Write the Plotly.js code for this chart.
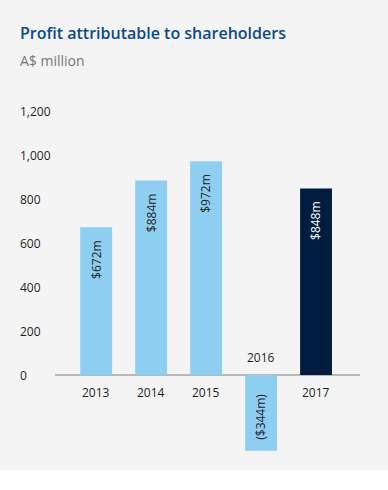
<!DOCTYPE html>
<html>
<head>
<meta charset="utf-8">
<script src="https://cdn.plot.ly/plotly-3.0.1.min.js"></script>
<style>
html,body{margin:0;padding:0;background:#ffffff;}
#chart{width:388px;height:470px;}
</style>
</head>
<body>
<div id="chart"></div>
<script>
var categories = ["2013", "2014", "2015", "2016", "2017"];
var profit = [672, 884, 972, -344, 848];
var valueLabels = ["$672m", "$884m", "$972m", "($344m)", "$848m"];
var barColors = ["#8ecef1", "#8ecef1", "#8ecef1", "#8ecef1", "#001d40"];
var labelColors = ["#1e1e1e", "#1e1e1e", "#1e1e1e", "#1e1e1e", "#ffffff"];
var yTicks = [0, 200, 400, 600, 800, 1000, 1200];
var yTickLabels = ["0", "200", "400", "600", "800", "1,000", "1,200"];

var FONT = "Open Sans, sans-serif";
var annotations = [];

// subtitle
annotations.push({
  text: "A$ million", xref: "paper", yref: "paper",
  x: -0.1148, y: (463 - 60) / 352, xanchor: "left", yanchor: "middle", xshift: -2,
  showarrow: false, font: {family: FONT, size: 14, color: "#777777"}
});

// y tick labels (left aligned)
for (var i = 0; i < yTicks.length; i++) {
  annotations.push({
    text: yTickLabels[i], xref: "paper", yref: "y",
    x: -0.1148, y: yTicks[i], xanchor: "left", yanchor: "middle", xshift: -2,
    showarrow: false, font: {family: FONT, size: 12, color: "#1e1e1e"}
  });
}

// category labels and value labels (x given as category index)
for (var j = 0; j < categories.length; j++) {
  var neg = profit[j] < 0;
  annotations.push({
    text: categories[j], xref: "x", yref: "y",
    x: j, y: 0,
    xanchor: "center", yanchor: neg ? "bottom" : "top",
    yshift: neg ? 7 : -7,
    showarrow: false, font: {family: FONT, size: 12, color: "#1e1e1e"}
  });
  annotations.push({
    text: valueLabels[j], xref: "x", yref: "y",
    x: j, y: profit[j], textangle: -90,
    xanchor: "center", yanchor: neg ? "bottom" : "top",
    yshift: neg ? 9 : -11,
    showarrow: false, font: {family: FONT, size: 12, color: labelColors[j]}
  });
}

var trace = {
  type: "bar",
  x: categories,
  y: profit,
  width: 0.58,
  marker: {color: barColors, line: {width: 0}},
  hoverinfo: "none"
};

var layout = {
  width: 388, height: 470,
  margin: {l: 55, r: 28, t: 111, b: 7, pad: 0},
  paper_bgcolor: "#f4f4f4",
  plot_bgcolor: "#f4f4f4",
  showlegend: false,
  title: {
    text: "Profit attributable to shareholders",
    xref: "container", yref: "container",
    x: 20 / 388, y: 1 - 33 / 470, xanchor: "left", yanchor: "middle",
    font: {family: FONT, size: 16, color: "#0b4a8a", weight: 600}
  },
  xaxis: {
    type: "category", range: [-0.75, 4.8],
    showticklabels: false, showgrid: false, zeroline: false, showline: false, ticks: ""
  },
  yaxis: {
    range: [-400, 1200], showticklabels: false, showgrid: false,
    zeroline: true, zerolinecolor: "#b8b8b8", zerolinewidth: 2,
    showline: false, ticks: "", fixedrange: true
  },
  annotations: annotations
};

Plotly.newPlot("chart", [trace], layout, {displayModeBar: false, staticPlot: true});
</script>
</body>
</html>
